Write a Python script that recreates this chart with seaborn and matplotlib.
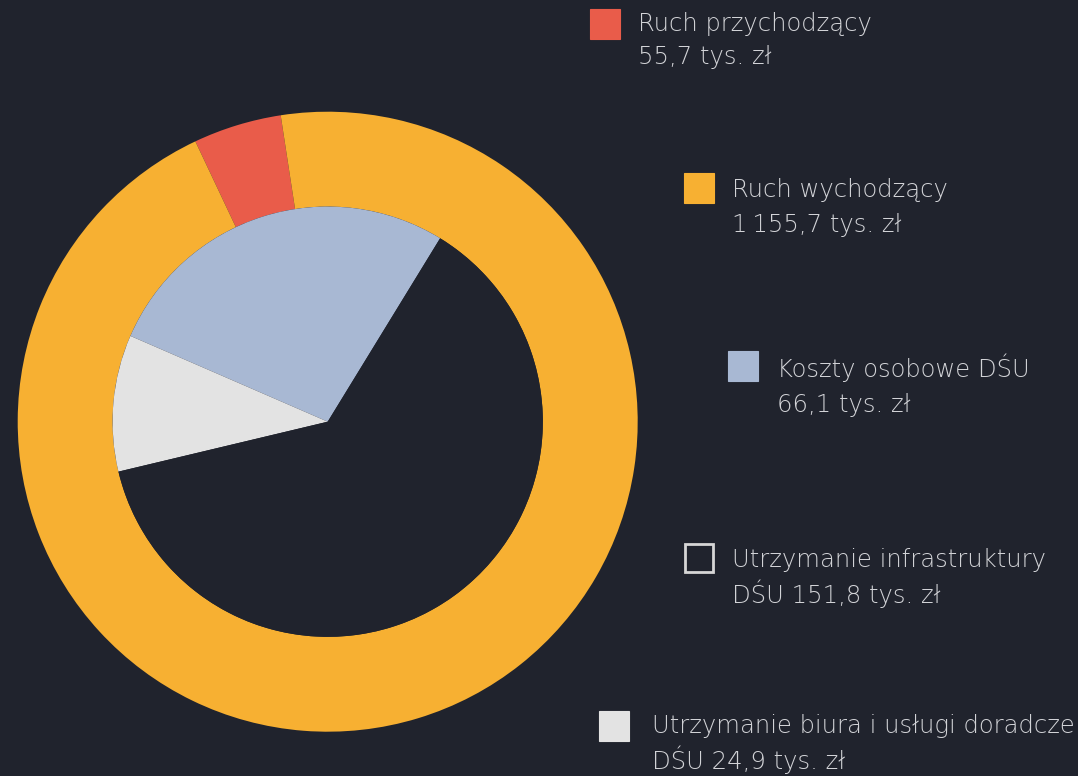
import matplotlib
matplotlib.use('Agg')
import matplotlib.pyplot as plt
import seaborn as sns
from matplotlib.patches import Rectangle

# data
outer_labels = ['Ruch przychodzący', 'Ruch wychodzący']
outer_values = [55.7, 1155.7]
inner_labels = ['Koszty osobowe DŚU', 'Utrzymanie biura i usługi doradcze DŚU',
                'Utrzymanie infrastruktury DŚU']
inner_values = [66.1, 24.9, 151.8]

# legend entries (top to bottom) as shown on the chart
legend_first = ['Ruch przychodzący', 'Ruch wychodzący', 'Koszty osobowe DŚU',
                'Utrzymanie infrastruktury', 'Utrzymanie biura i usługi doradcze']
legend_prefix = ['', '', '', 'DŚU ', 'DŚU ']
legend_values = [55.7, 1155.7, 66.1, 151.8, 24.9]

BG = '#20232d'
TXT = '#d2d3d7'
outer_colors = ['#e95c4a', '#f7b032']
inner_colors = ['#a8b8d3', '#e3e3e3', BG]
legend_colors = ['#e95c4a', '#f7b032', '#a8b8d3', BG, '#e3e3e3']
legend_edges = ['#e95c4a', '#f7b032', '#a8b8d3', '#d6d6d6', '#e3e3e3']

sns.set_theme(style='white', rc={'figure.facecolor': BG, 'axes.facecolor': BG})
plt.rcParams['font.family'] = ['DejaVu Sans']


def fmt_pl(v):
    s = f'{v:,.1f}'
    return s.replace(',', '\u2009').replace('.', ',') + ' tys. zł'


W, H = 1078, 776
fig = plt.figure(figsize=(W / 100, H / 100), dpi=100)

# pie axes: center (327.7, 421.7) px, outer radius 310 px
cx, cy, R = 327.7, 421.7, 310
ax = fig.add_axes([(cx - R) / W, (H - cy - R) / H, 2 * R / W, 2 * R / H])
ax.set_facecolor(BG)

red_span = 360 * outer_values[0] / sum(outer_values)
ax.pie(outer_values, colors=outer_colors, radius=1.0, startangle=107 - red_span / 2,
       counterclock=True, wedgeprops=dict(width=0.306, linewidth=0))
blue_span = 360 * inner_values[0] / sum(inner_values)
ax.pie(inner_values, colors=inner_colors, radius=0.694, startangle=107.5 - blue_span / 2,
       counterclock=True, wedgeprops=dict(linewidth=0))
ax.set_xlim(-1, 1)
ax.set_ylim(-1, 1)
ax.axis('off')

# legend layout (pixel positions, top-left of square, text x, baselines)
sq_pos = [(589.5, 8.5), (683.5, 172.5), (727.5, 350.5), (683.5, 542.5), (598.5, 711)]
txt_x = [638, 732, 777, 732, 651.5]
base1 = [31, 197, 377, 567, 733]
base2 = [64, 232, 412, 603, 769.5]
SQ = 30

for i in range(len(legend_first)):
    x0, y0 = sq_pos[i]
    lw = 2 if legend_colors[i] == BG else 0.8
    inset = 1 if legend_colors[i] == BG else 0
    fig.patches.append(Rectangle(((x0 + inset) / W, (H - y0 - SQ + inset) / H),
                                 (SQ - 2 * inset) / W, (SQ - 2 * inset) / H,
                                 transform=fig.transFigure, facecolor=legend_colors[i],
                                 edgecolor=legend_edges[i], linewidth=lw))
    fig.text(txt_x[i] / W, (H - base1[i]) / H, legend_first[i], color=TXT,
             fontsize=17.5, fontweight='light', va='baseline', ha='left')
    fig.text(txt_x[i] / W, (H - base2[i]) / H, legend_prefix[i] + fmt_pl(legend_values[i]),
             color=TXT, fontsize=17.5, fontweight='light', va='baseline', ha='left')

fig.savefig('out.png', dpi=100, facecolor=BG)
